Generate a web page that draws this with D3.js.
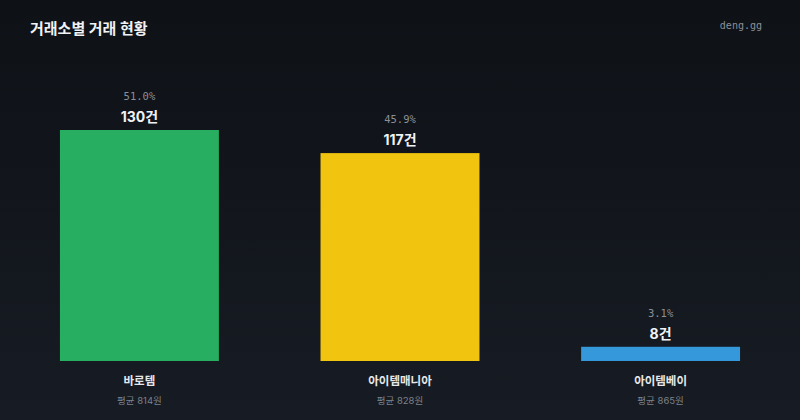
<!DOCTYPE html>
<html>
<head>
<meta charset="utf-8">
<script src="https://cdn.jsdelivr.net/npm/d3@7"></script>
<style>
  html, body { margin: 0; padding: 0; background: #0f1217; }
  svg { display: block; }
</style>
</head>
<body>
<div id="chart"></div>
<script>
// exchange trade counts
var exchanges = ["바로템", "아이템매니아", "아이템베이"];
var counts = [130, 117, 8];
var shares = ["51.0%", "45.9%", "3.1%"];
var avgPrices = [814, 828, 865];
var barColors = ["#27ae60", "#f1c40f", "#3498db"];

var width = 800, height = 420;
var baseY = 361;
var sans = "Inter, 'Noto Sans CJK KR', sans-serif";

var svg = d3.select("#chart")
  .append("svg")
  .attr("width", width)
  .attr("height", height);

// background gradient
var defs = svg.append("defs");
var bg = defs.append("linearGradient")
  .attr("id", "bg")
  .attr("x1", 0).attr("y1", 0)
  .attr("x2", 0).attr("y2", 1);
bg.append("stop").attr("offset", "0%").attr("stop-color", "#0e1116");
bg.append("stop").attr("offset", "100%").attr("stop-color", "#171b23");

svg.append("rect")
  .attr("width", width)
  .attr("height", height)
  .attr("fill", "url(#bg)");

svg.append("text")
  .attr("x", 30)
  .attr("y", 34)
  .attr("fill", "#f0f2f5")
  .style("font-family", sans)
  .style("font-size", "15px")
  .style("font-weight", "700")
  .text("거래소별 거래 현황");

svg.append("text")
  .attr("x", 762)
  .attr("y", 29)
  .attr("text-anchor", "end")
  .attr("fill", "#8b9098")
  .style("font-family", "'DejaVu Sans Mono', monospace")
  .style("font-size", "10px")
  .text("deng.gg");

var x = d3.scaleBand()
  .domain(exchanges)
  .range([0, width])
  .paddingInner(0.39)
  .paddingOuter(0.23);

// 130 -> top at y=130
var y = d3.scaleLinear()
  .domain([0, 130])
  .range([baseY, 130]);

var data = exchanges.map(function(name, i) {
  return { name: name, count: counts[i], share: shares[i], avg: avgPrices[i], color: barColors[i] };
});

var g = svg.selectAll(".bar-group")
  .data(data)
  .enter()
  .append("g")
  .attr("class", "bar-group");

g.append("rect")
  .attr("x", function(d) { return x(d.name); })
  .attr("y", function(d) { return y(d.count); })
  .attr("width", x.bandwidth())
  .attr("height", function(d) { return baseY - y(d.count); })
  .attr("fill", function(d) { return d.color; });

g.append("text")
  .attr("x", function(d) { return x(d.name) + x.bandwidth() / 2; })
  .attr("y", function(d) { return y(d.count) - 30; })
  .attr("text-anchor", "middle")
  .attr("fill", "#8b9098")
  .style("font-family", "'DejaVu Sans Mono', monospace")
  .style("font-size", "10.5px")
  .text(function(d) { return d.share; });

g.append("text")
  .attr("x", function(d) { return x(d.name) + x.bandwidth() / 2; })
  .attr("y", function(d) { return y(d.count) - 8; })
  .attr("text-anchor", "middle")
  .attr("fill", "#f0f2f5")
  .style("font-family", sans)
  .style("font-size", "14px")
  .style("font-weight", "700")
  .text(function(d) { return d.count + "건"; });

g.append("text")
  .attr("x", function(d) { return x(d.name) + x.bandwidth() / 2; })
  .attr("y", 385)
  .attr("text-anchor", "middle")
  .attr("fill", "#e6e8eb")
  .style("font-family", sans)
  .style("font-size", "11.5px")
  .style("font-weight", "700")
  .text(function(d) { return d.name; });

g.append("text")
  .attr("x", function(d) { return x(d.name) + x.bandwidth() / 2; })
  .attr("y", 404)
  .attr("text-anchor", "middle")
  .attr("fill", "#7d828a")
  .style("font-family", sans)
  .style("font-size", "9.5px")
  .text(function(d) { return "평균 " + d.avg + "원"; });
</script>
</body>
</html>
